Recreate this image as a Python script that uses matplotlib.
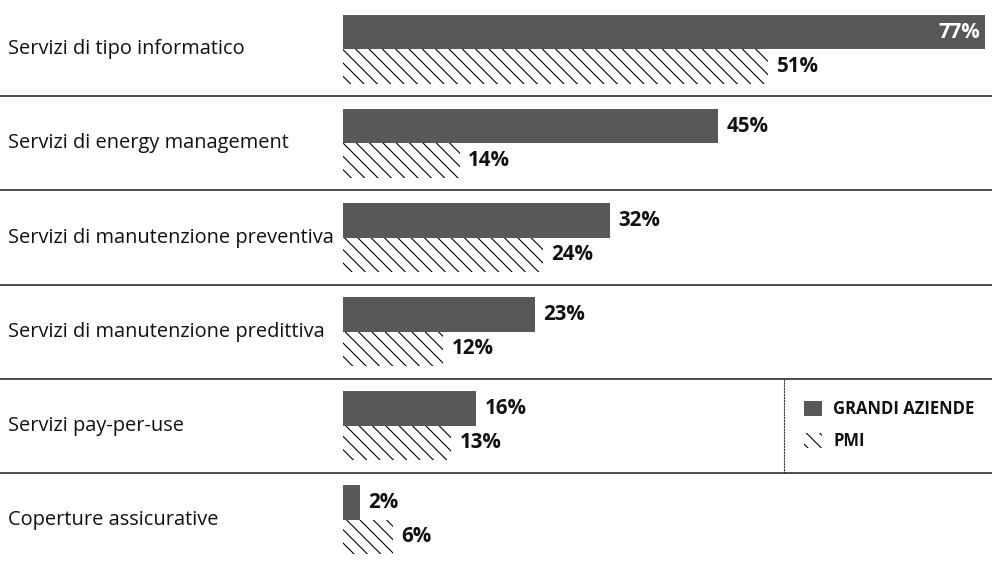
import matplotlib.pyplot as plt
from matplotlib.patches import Patch

categories = [
    'Servizi di tipo informatico',
    'Servizi di energy management',
    'Servizi di manutenzione preventiva',
    'Servizi di manutenzione predittiva',
    'Servizi pay-per-use',
    'Coperture assicurative',
]
grandi = [77, 45, 32, 23, 16, 2]
pmi = [51, 14, 24, 12, 13, 6]
series_names = ['GRANDI AZIENDE', 'PMI']

DARK = '#585858'
FONT = 'Open Sans'

fig = plt.figure(figsize=(12.4, 7.0125), dpi=80)
ax = fig.add_axes([0, 0, 1, 1])

px_per_pct = 8.34
x0_px = 343
ax.set_xlim(-x0_px / px_per_pct, (992 - x0_px) / px_per_pct)
row_px = 94
top = -0.5 - 2.5 / row_px
ax.set_ylim(top + 561 / row_px, top)
ax.axis('off')

h = 0.37
ypos = list(range(len(categories)))
y_dark = [y - h / 2 for y in ypos]
y_pmi = [y + h / 2 for y in ypos]

ax.barh(y_pmi, pmi, height=h, color='white', edgecolor='black',
        hatch='\\\\', linewidth=0)
ax.barh(y_dark, grandi, height=h, color=DARK, linewidth=0)

xmax = ax.get_xlim()[1]
for y, v in zip(y_dark, grandi):
    if v + 6 > xmax:
        ax.text(v - 0.6, y, f'{v}%', ha='right', va='center', color='white',
                fontsize=18.5, fontweight='bold', family=FONT)
    else:
        ax.text(v + 1.0, y, f'{v}%', ha='left', va='center', color='#111111',
                fontsize=18.5, fontweight='bold', family=FONT)
for y, v in zip(y_pmi, pmi):
    ax.text(v + 1.0, y, f'{v}%', ha='left', va='center', color='#111111',
            fontsize=18.5, fontweight='bold', family=FONT)

for y, name in zip(ypos, categories):
    ax.text(-x0_px / px_per_pct + 8 / px_per_pct, y, name, ha='left',
            va='center', fontsize=18, color='#111111', family=FONT)

for k in range(len(categories) - 1):
    ax.axhline(k + 0.5, color='#3c3c3c', lw=1.6)

# legend separator in the pay-per-use row
leg_x = (784 - x0_px) / px_per_pct
ax.plot([leg_x, leg_x], [3.5, 4.5], color='#333333', lw=1.0, ls=(0, (2, 0.6)))

handles = [
    Patch(facecolor=DARK, linewidth=0, label=series_names[0]),
    Patch(facecolor='white', edgecolor='black', hatch='\\\\', linewidth=0,
          label=series_names[1]),
]
leg = ax.legend(handles=handles, loc='center left',
                bbox_to_anchor=(804 / 992, 1 - 425 / 561),
                bbox_transform=fig.transFigure, frameon=False,
                borderpad=0, borderaxespad=0, handlelength=1.05,
                handleheight=1.05, handletextpad=0.7, labelspacing=0.85,
                prop={'family': FONT, 'size': 15, 'weight': 'bold'})
for t in leg.get_texts():
    t.set_color('#111111')

fig.savefig('out.png', dpi=80, facecolor='white')
